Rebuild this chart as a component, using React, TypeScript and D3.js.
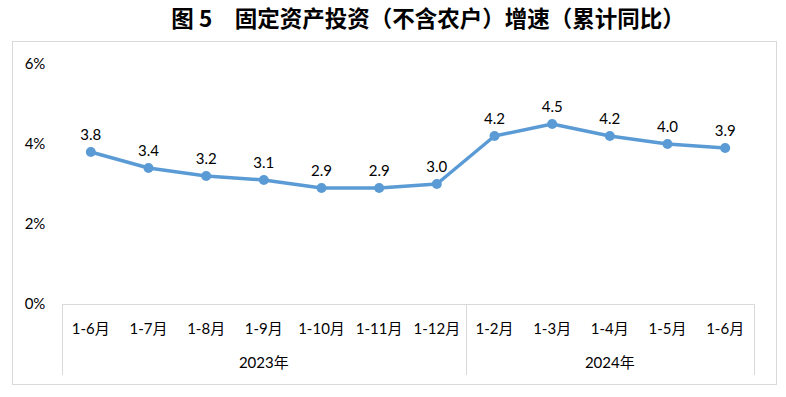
import React, { useRef, useEffect } from "react";
import * as d3 from "d3";

const months = ["1-6月", "1-7月", "1-8月", "1-9月", "1-10月", "1-11月", "1-12月", "1-2月", "1-3月", "1-4月", "1-5月", "1-6月"];
const years = ["2023年", "2024年"];
const yearSpan = [7, 5];
const growth = [3.8, 3.4, 3.2, 3.1, 2.9, 2.9, 3.0, 4.2, 4.5, 4.2, 4.0, 3.9];
const yTicks = [0, 2, 4, 6];

const W = 786, H = 397;

const App = () => {
  const svgRef = useRef<SVGSVGElement>(null);

  useEffect(() => {
    const svg = d3.select(svgRef.current);
    svg.selectAll("*").remove();

    const left = 62, right = 754, top = 64, bottom = 304;
    const idx = months.map((_, i) => i);
    const x = d3.scaleBand<number>().domain(idx).range([left, right]).padding(0);
    const y = d3.scaleLinear().domain([0, 6]).range([bottom, top]);
    const labelFont = "Lato, 'Noto Sans CJK SC', sans-serif";

    // title
    svg.append("text")
      .attr("x", 428).attr("y", 27)
      .attr("text-anchor", "middle")
      .style("font-family", "'Noto Sans CJK SC', sans-serif")
      .style("font-weight", "bold")
      .style("font-size", "22.5px")
      .attr("fill", "#000")
      .text("图 5　固定资产投资（不含农户）增速（累计同比）");

    // outer frame
    svg.append("rect")
      .attr("x", 12.5).attr("y", 41.5)
      .attr("width", 764).attr("height", 343)
      .attr("fill", "#fff").attr("stroke", "#d9d9d9");

    // y axis labels
    svg.append("g").selectAll("text").data(yTicks).join("text")
      .attr("x", 35).attr("y", (d) => y(d) + 5)
      .attr("text-anchor", "middle")
      .style("font-family", labelFont).style("font-size", "15px")
      .attr("fill", "#000")
      .text((d) => d + "%");

    // category axis
    const ax = svg.append("g").attr("stroke", "#d9d9d9").attr("fill", "none");
    ax.append("line").attr("x1", left).attr("x2", right).attr("y1", bottom + 0.5).attr("y2", bottom + 0.5);
    let acc = 0;
    const edges = [0];
    yearSpan.forEach((n) => { acc += n; edges.push(acc); });
    edges.forEach((e) => {
      const xx = e < months.length ? x(e)! : right;
      ax.append("line").attr("x1", Math.round(xx) + 0.5).attr("x2", Math.round(xx) + 0.5)
        .attr("y1", bottom).attr("y2", 375);
    });

    svg.append("g").selectAll("text").data(idx).join("text")
      .attr("x", (i) => x(i)! + x.bandwidth() / 2)
      .attr("y", 334)
      .attr("text-anchor", "middle")
      .style("font-family", labelFont).style("font-size", "15px")
      .attr("fill", "#000")
      .text((i) => months[i]);

    svg.append("g").selectAll("text").data(years).join("text")
      .attr("x", (_, j) => {
        const a = x(edges[j])!;
        const b = edges[j + 1] < months.length ? x(edges[j + 1])! : right;
        return (a + b) / 2;
      })
      .attr("y", 368)
      .attr("text-anchor", "middle")
      .style("font-family", labelFont).style("font-size", "15px")
      .attr("fill", "#000")
      .text((d) => d);

    // line
    const cx = (i: number) => x(i)! + x.bandwidth() / 2;
    svg.append("path")
      .datum(idx)
      .attr("fill", "none")
      .attr("stroke", "#5b9bd5")
      .attr("stroke-width", 3.5)
      .attr("stroke-linejoin", "round")
      .attr("d", d3.line<number>().x(cx).y((i) => y(growth[i])));

    svg.append("g").selectAll("circle").data(idx).join("circle")
      .attr("cx", cx).attr("cy", (i) => y(growth[i]))
      .attr("r", 5)
      .attr("fill", "#5b9bd5");

    svg.append("g").selectAll("text").data(idx).join("text")
      .attr("x", cx).attr("y", (i) => y(growth[i]) - 12)
      .attr("text-anchor", "middle")
      .style("font-family", labelFont).style("font-size", "15px")
      .attr("fill", "#000")
      .text((i) => growth[i].toFixed(1));
  }, []);

  return <svg ref={svgRef} width={W} height={H} style={{ position: "absolute", left: 0, top: 0, background: "#fff" }} />;
};

export default App;
